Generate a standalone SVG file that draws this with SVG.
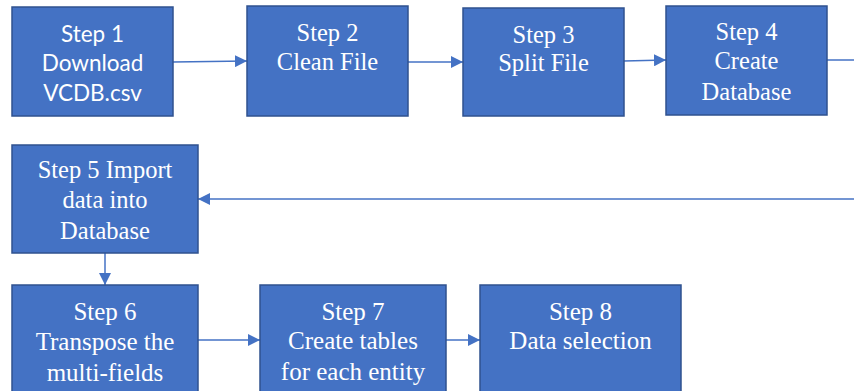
<svg xmlns="http://www.w3.org/2000/svg" width="854" height="391" viewBox="0 0 854 391">
<style>
.box{fill:#4472C4;stroke:#2F528F;stroke-width:1.5}
.t{fill:#fff;font-family:'Liberation Serif','Times New Roman',serif;font-size:24.5px;text-anchor:middle}
.b{font-size:25px}
.s{fill:#fff;font-family:Lato,'Liberation Sans',sans-serif;font-size:22.5px;text-anchor:middle}
.c{stroke:#4472C4;stroke-width:1.5;fill:none}
</style>
<defs>
<marker id="ah" viewBox="0 0 12 12" refX="12" refY="6" markerWidth="12" markerHeight="12" markerUnits="userSpaceOnUse" orient="auto">
<path d="M0,0 L12,6 L0,12 Z" fill="#4472C4"/>
</marker>
</defs>
<rect width="854" height="391" fill="#fff"/>
<g id="connectors">
<line class="c" x1="173" y1="62" x2="247" y2="61" marker-end="url(#ah)"/>
<line class="c" x1="408" y1="62" x2="463" y2="62" marker-end="url(#ah)"/>
<line class="c" x1="624" y1="61" x2="666" y2="60" marker-end="url(#ah)"/>
<line class="c" x1="827" y1="60" x2="854" y2="60"/>
<line class="c" x1="854" y1="199" x2="198" y2="199" marker-end="url(#ah)"/>
<line class="c" x1="105" y1="253" x2="105" y2="285" marker-end="url(#ah)"/>
<line class="c" x1="198" y1="340" x2="260" y2="340" marker-end="url(#ah)"/>
<line class="c" x1="446" y1="340" x2="480" y2="340" marker-end="url(#ah)"/>
</g>
<g id="step1">
<rect class="box" x="12" y="7" width="161" height="109"/>
<text class="s" x="92.5" y="42">Step 1</text>
<text class="s" x="92.5" y="71">Download</text>
<text class="s" x="92.5" y="101">VCDB.csv</text>
</g>
<g id="step2">
<rect class="box" x="247" y="6" width="161" height="110"/>
<text class="t" x="327.5" y="41">Step 2</text>
<text class="t" x="327.5" y="70">Clean File</text>
</g>
<g id="step3">
<rect class="box" x="463" y="8" width="161" height="108"/>
<text class="t" x="543.5" y="43">Step 3</text>
<text class="t" x="543.5" y="71">Split File</text>
</g>
<g id="step4">
<rect class="box" x="666" y="6" width="161" height="109"/>
<text class="t" x="746.5" y="40">Step 4</text>
<text class="t" x="746.5" y="69">Create</text>
<text class="t" x="746.5" y="100">Database</text>
</g>
<g id="step5">
<rect class="box" x="12" y="145" width="186" height="108"/>
<text class="t" x="105" y="178">Step 5 Import</text>
<text class="t" x="105" y="208">data into</text>
<text class="t" x="105" y="239">Database</text>
</g>
<g id="step6">
<rect class="box" x="12" y="285" width="186" height="120"/>
<text class="t b" x="105" y="320">Step 6</text>
<text class="t b" x="105" y="350">Transpose the</text>
<text class="t b" x="105" y="381">multi-fields</text>
</g>
<g id="step7">
<rect class="box" x="260" y="285" width="186" height="120"/>
<text class="t b" x="353" y="320">Step 7</text>
<text class="t b" x="353" y="349">Create tables</text>
<text class="t b" x="353" y="380">for each entity</text>
</g>
<g id="step8">
<rect class="box" x="480" y="285" width="201" height="120"/>
<text class="t b" x="580.5" y="320">Step 8</text>
<text class="t b" x="580.5" y="349">Data selection</text>
</g>
</svg>
